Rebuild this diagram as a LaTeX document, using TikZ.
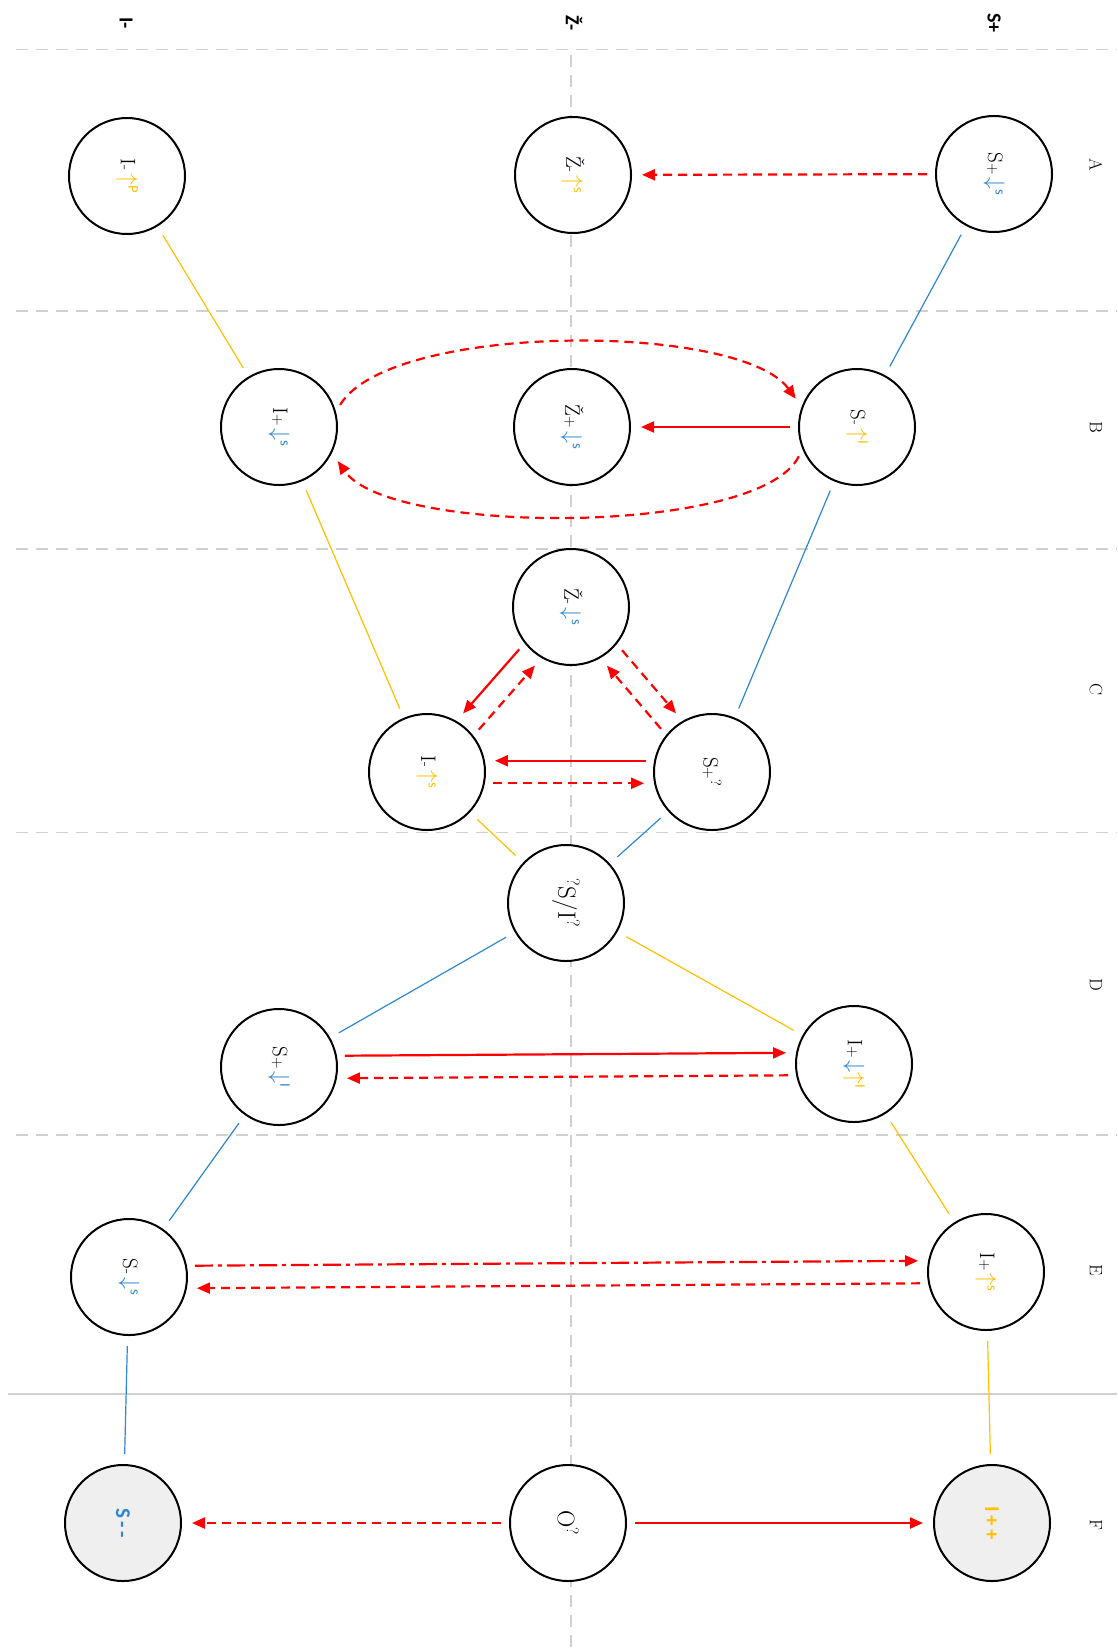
\documentclass[tikz,border=0pt]{standalone}
\usepackage{fontspec}
\usepackage{graphicx}
\usetikzlibrary{arrows.meta}
\newfontfamily\labsans{Carlito}
\definecolor{ablue}{HTML}{2F86D1}
\definecolor{ayel}{HTML}{FFC000}
\definecolor{ared}{HTML}{FF0000}
\definecolor{agray}{HTML}{D0D0D0}
\definecolor{gfill}{HTML}{EFEFEF}
\newcommand\rot[1]{\rotatebox{-90}{#1}}
\newcommand\nl[3]{\rotatebox{-90}{#1{\fontsize{16}{16}\selectfont #2}\hspace{3pt}#3}}
\newcommand\bigar[1]{\scalebox{1.15}{$#1$}}
\newcommand\ad[1]{\textcolor{ablue}{\bigar{\downarrow}\textsuperscript{\labsans #1}}}
\newcommand\au[1]{\textcolor{ayel}{\bigar{\uparrow}\textsuperscript{\labsans #1}}}
\begin{document}
\begin{tikzpicture}[x=1pt,y=-1pt,
  st/.style={circle,draw=black,line width=2pt,fill=white,minimum size=116pt,inner sep=0pt,font=\fontsize{21}{24}\selectfont},
  gst/.style={st,fill=gfill},
  bl/.style={draw=ablue,line width=1.2pt,shorten <=10pt,shorten >=10pt},
  yl/.style={draw=ayel,line width=1.2pt,shorten <=10pt,shorten >=10pt},
  rar/.style={draw=ared,line width=2.2pt,-{Triangle[length=13pt,width=11pt]},shorten <=8pt,shorten >=10pt},
  rdash/.style={rar,dash pattern=on 9pt off 6pt},
  rdd/.style={rar,dash pattern=on 18pt off 5pt on 4pt off 5pt},
  gl/.style={draw=agray,line width=1.5pt,dash pattern=on 12pt off 8pt},
  hdr/.style={font=\fontsize{20}{22}\selectfont\labsans\bfseries},
  col/.style={font=\fontsize{18}{20}\selectfont}
]
\useasboundingbox (0,0) rectangle (1117,1652);
% background separators
\draw[gl] (16,49.5) -- (1117,49.5);
\draw[gl] (16,311) -- (1117,311);
\draw[gl] (16,549) -- (1117,549);
\draw[gl] (16,832.5) -- (1117,832.5);
\draw[gl] (16,1135) -- (1117,1135);
\draw[draw=agray,line width=1.5pt] (8,1394) -- (1117,1394);
\draw[gl] (571,55) -- (571,1652);
% headers
\node[hdr] (hS) at (994,23) {\rot{S+}};
\node[hdr] (hZ) at (574,23) {\rot{Ž-}};
\node[hdr] (hI) at (126,23) {\rot{I-}};
\node[col] (cA) at (1096,165) {\rot{A}};
\node[col] (cB) at (1096,427) {\rot{B}};
\node[col] (cC) at (1096,690) {\rot{C}};
\node[col] (cD) at (1096,985) {\rot{D}};
\node[col] (cE) at (1096,1270) {\rot{E}};
\node[col] (cF) at (1096,1525) {\rot{F}};
% nodes
\node[st] (SA) at (994,174) {\nl{S}{+}{\ad{s}}};
\node[st] (ZA) at (573,175) {\nl{Ž}{-}{\au{s}}};
\node[st] (IA) at (127,176) {\nl{I}{-}{\au{P}}};
\node[st] (SB) at (857,427) {\nl{S}{-}{\au{I}}};
\node[st] (ZB) at (572,427) {\nl{Ž}{+}{\ad{s}}};
\node[st] (IB) at (279,427) {\nl{I}{+}{\ad{s}}};
\node[st] (ZC) at (571,607) {\nl{Ž}{-}{\ad{s}}};
\node[st] (SC) at (712,772) {\rot{S{\fontsize{16}{16}\selectfont+}\textsuperscript{?}}};
\node[st] (IC) at (427,772) {\nl{I}{-}{\au{s}}};
\node[st] (SI) at (566,903) {\rot{\fontsize{25}{25}\selectfont\textsuperscript{?}S/I\textsuperscript{?}}};
\node[st] (ID) at (854,1064) {\nl{I}{+}{\textcolor{ablue}{\bigar{\downarrow}}\textcolor{ayel}{\bigar{\uparrow}\textsuperscript{\labsans I}}}};
\node[st] (SD) at (279,1067) {\nl{S}{+}{\ad{I}}};
\node[st] (IE) at (986,1272) {\nl{I}{+}{\au{s}}};
\node[st] (SE) at (129,1277) {\nl{S}{-}{\ad{s}}};
\node[gst] (IF) at (992,1523) {\rot{\textcolor{ayel}{\labsans\bfseries I\,+\,+}}};
\node[st] (OF) at (568,1523) {\rot{\fontsize{24}{24}\selectfont O\textsuperscript{?}}};
\node[gst] (SF) at (123,1523) {\rot{\textcolor{ablue}{\labsans\bfseries S\,-\,-}}};
% blue connectors
\draw[bl] (SA) -- (SB);
\draw[bl] (SB) -- (SC);
\draw[bl] (SC) -- (SI);
\draw[bl] (SI) -- (SD);
\draw[bl] (SD) -- (SE);
\draw[bl] (SE) -- (SF);
% yellow connectors
\draw[yl] (IA) -- (IB);
\draw[yl] (IB) -- (IC);
\draw[yl] (IC) -- (SI);
\draw[yl] (SI) -- (ID);
\draw[yl] (ID) -- (IE);
\draw[yl] (IE) -- (IF);
% red arrows
\draw[rdash] (SA) -- (ZA);
\draw[rar] (SB) -- (ZB);
\draw[rdash] (IB.15) .. controls (390,322) and (740,322) .. (SB.160);
\draw[rdash] (SB.202) .. controls (760,536) and (390,536) .. (IB.334);
\draw[rar] (SC.169) -- (IC.11);
\draw[rdash] (IC.-11) -- (SC.191);
\draw[rar] (ZC.218) -- (IC.60);
\draw[rdash] (IC.38) -- (ZC.240);
\draw[rdash] (ZC.321) -- (SC.120);
\draw[rdash] (SC.141) -- (ZC.300);
\draw[rar] (SD.11) -- (ID.169);
\draw[rdash] (ID.191) -- (SD.-11);
\draw[rdd] (SE.11) -- (IE.169);
\draw[rdash] (IE.191) -- (SE.349);
\draw[rar] (OF) -- (IF);
\draw[rdash] (OF) -- (SF);
\end{tikzpicture}
\end{document}
